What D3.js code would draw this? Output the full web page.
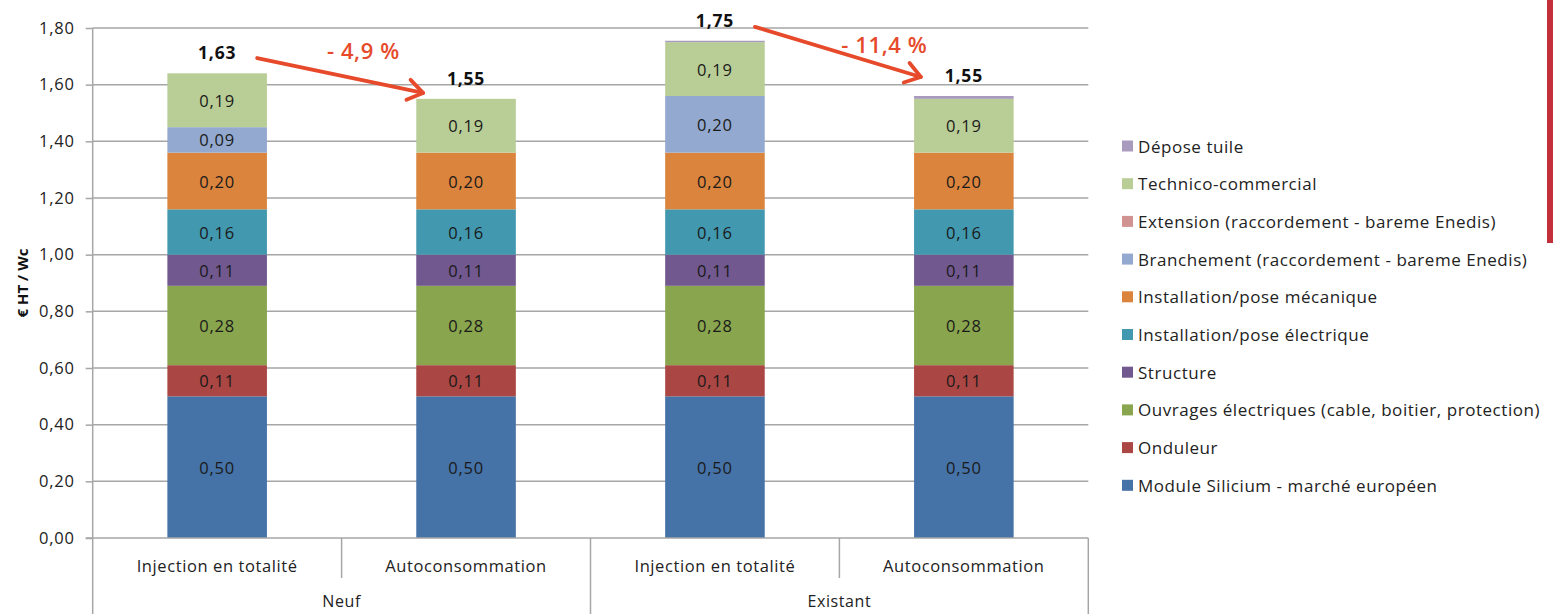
<!DOCTYPE html>
<html>
<head>
<meta charset="utf-8">
<script src="https://cdn.jsdelivr.net/npm/d3@7"></script>
<style>
  body { margin: 0; background: #fff; }
  svg { display: block; font-family: "Open Sans", sans-serif; }
</style>
</head>
<body>
<svg id="chart" width="1553" height="614"></svg>
<script>
// ---- data ----
const groups = ["Neuf", "Existant"];
const scenarios = ["Injection en totalité", "Autoconsommation", "Injection en totalité", "Autoconsommation"];
const scenarioGroup = [0, 0, 1, 1];

const seriesNames = [
  "Module Silicium - marché européen",
  "Onduleur",
  "Ouvrages électriques (cable, boitier, protection)",
  "Structure",
  "Installation/pose électrique",
  "Installation/pose mécanique",
  "Branchement (raccordement - bareme Enedis)",
  "Extension (raccordement - bareme Enedis)",
  "Technico-commercial",
  "Dépose tuile"
];
const seriesColors = ["#4572A7", "#AA4643", "#89A54E", "#71588F", "#4198AF",
                      "#DB843D", "#93A9CF", "#D19392", "#B9CD96", "#A99BBD"];

const moduleSilicium = [0.50, 0.50, 0.50, 0.50];
const onduleur       = [0.11, 0.11, 0.11, 0.11];
const ouvrages       = [0.28, 0.28, 0.28, 0.28];
const structure      = [0.11, 0.11, 0.11, 0.11];
const poseElectrique = [0.16, 0.16, 0.16, 0.16];
const poseMecanique  = [0.20, 0.20, 0.20, 0.20];
const branchement    = [0.09, 0.00, 0.20, 0.00];
const extension      = [0.00, 0.00, 0.00, 0.00];
const technico       = [0.19, 0.19, 0.19, 0.19];
const deposeTuile    = [0.00, 0.00, 0.005, 0.01];
const seriesValues = [moduleSilicium, onduleur, ouvrages, structure, poseElectrique,
                      poseMecanique, branchement, extension, technico, deposeTuile];

const totals = [1.63, 1.55, 1.75, 1.55];

// evolution annotations between two bars: start/end heights and label
const evoFrom = [0, 2];
const evoTo = [1, 3];
const evoStartValue = [1.694, 1.804];
const evoEndValue = [1.571, 1.627];
const evoLabels = ["- 4,9 %", "- 11,4 %"];
const evoLabelPos = [0.64, 0.78];
const evoLabelValue = [1.722, 1.744];

const yTicks = [0, 0.2, 0.4, 0.6, 0.8, 1.0, 1.2, 1.4, 1.6, 1.8];
const yTitle = "€ HT / Wc";

// ---- layout ----
const svg = d3.select("#chart");
const plotLeft = 92.7, plotRight = 1088.3, plotTop = 28, plotBottom = 538;
const axisGrey = "#A6A6A6";
const textColor = "#222";
const fmt = v => d3.format(".2f")(v).replace(".", ",");

const x = d3.scaleBand().domain(d3.range(scenarios.length))
  .range([plotLeft, plotRight]).paddingInner(0.6).paddingOuter(0.3);
const y = d3.scaleLinear().domain([0, 1.8]).range([plotBottom, plotTop]);
const cx = i => x(i) + x.bandwidth() / 2;
const step = x.step();

// gridlines
svg.append("g").selectAll("line").data(yTicks.filter(d => d > 0)).join("line")
  .attr("x1", plotLeft).attr("x2", plotRight)
  .attr("y1", d => y(d)).attr("y2", d => y(d))
  .attr("stroke", axisGrey).attr("stroke-width", 1.5);

// y axis
const yAxis = svg.append("g").attr("transform", `translate(${plotLeft},0)`)
  .call(d3.axisLeft(y).tickValues(yTicks).tickSize(7).tickPadding(11).tickFormat(fmt));
yAxis.select(".domain").remove();
yAxis.selectAll(".tick line").attr("stroke", axisGrey).attr("stroke-width", 1.5);
yAxis.selectAll(".tick text").attr("font-size", 16.5).attr("letter-spacing", 0.8)
  .attr("fill", textColor).attr("font-family", "Open Sans, sans-serif");
svg.append("line").attr("x1", plotLeft).attr("x2", plotLeft).attr("y1", plotTop).attr("y2", 614)
  .attr("stroke", axisGrey).attr("stroke-width", 1.5);

svg.append("text").attr("transform", `translate(22,${(plotTop + plotBottom) / 2}) rotate(-90)`)
  .attr("text-anchor", "middle").attr("dominant-baseline", "central")
  .attr("font-size", 15).attr("font-weight", "bold").attr("fill", "#111").text(yTitle);

// stacked bars
const rows = scenarios.map((s, i) => {
  const r = { idx: i };
  seriesNames.forEach((n, k) => r[n] = seriesValues[k][i]);
  return r;
});
const stacked = d3.stack().keys(seriesNames)(rows);

const layers = svg.append("g").selectAll("g").data(stacked).join("g")
  .attr("fill", (d, k) => seriesColors[k]);
layers.selectAll("rect").data(d => d).join("rect")
  .attr("x", d => x(d.data.idx))
  .attr("width", x.bandwidth())
  .attr("y", d => y(d[1]))
  .attr("height", d => y(d[0]) - y(d[1]));

// segment value labels
layers.selectAll("text").data(d => d.filter(s => s[1] - s[0] >= 0.05)).join("text")
  .attr("x", d => cx(d.data.idx))
  .attr("y", d => y((d[0] + d[1]) / 2))
  .attr("text-anchor", "middle").attr("dominant-baseline", "central")
  .attr("font-size", 16.5).attr("letter-spacing", 0.8).attr("fill", "#1a1a1a")
  .text(d => fmt(d[1] - d[0]));

// totals above each stack
const stackTop = stacked[stacked.length - 1];
svg.append("g").selectAll("text").data(totals).join("text")
  .attr("x", (d, i) => cx(i))
  .attr("y", (d, i) => y(stackTop[i][1]) - 21)
  .attr("text-anchor", "middle").attr("dominant-baseline", "central")
  .attr("font-size", 17.5).attr("letter-spacing", 0.8).attr("font-weight", "bold").attr("fill", "#111")
  .text(fmt);

// baseline
svg.append("line").attr("x1", plotLeft - 7).attr("x2", plotRight).attr("y1", plotBottom).attr("y2", plotBottom)
  .attr("stroke", axisGrey).attr("stroke-width", 1.5);

// category axis: scenario labels, separators and group labels
svg.append("g").selectAll("text").data(scenarios).join("text")
  .attr("x", (d, i) => cx(i)).attr("y", 565)
  .attr("text-anchor", "middle").attr("dominant-baseline", "central")
  .attr("font-size", 16.5).attr("letter-spacing", 0.6).attr("fill", textColor).text(d => d);

const seps = d3.range(1, scenarios.length).map(i => ({
  pos: plotLeft + step * i,
  full: scenarioGroup[i] !== scenarioGroup[i - 1]
}));
seps.push({ pos: plotRight, full: true });
svg.append("g").selectAll("line").data(seps).join("line")
  .attr("x1", d => d.pos).attr("x2", d => d.pos)
  .attr("y1", plotBottom).attr("y2", d => d.full ? 614 : 578)
  .attr("stroke", axisGrey).attr("stroke-width", 1.5);

svg.append("g").selectAll("text").data(groups).join("text")
  .attr("x", (d, g) => {
    const idx = scenarioGroup.map((v, i) => v === g ? i : -1).filter(i => i >= 0);
    return plotLeft + step * (idx[0] + idx[idx.length - 1] + 1) / 2;
  })
  .attr("y", 601)
  .attr("text-anchor", "middle").attr("dominant-baseline", "central")
  .attr("font-size", 16).attr("letter-spacing", 0.6).attr("fill", textColor).text(d => d);

// evolution arrows
const red = "#E64A2B";
evoFrom.forEach((f, k) => {
  const x1 = cx(f) + 40, y1 = y(evoStartValue[k]);
  const x2 = cx(evoTo[k]) - 43, y2 = y(evoEndValue[k]);
  const a = Math.atan2(y2 - y1, x2 - x1);
  const L = 18, sp = 0.6;
  const g = svg.append("g").attr("stroke", red).attr("stroke-width", 3.8)
    .attr("fill", "none").attr("stroke-linecap", "round").attr("stroke-linejoin", "round");
  g.append("line").attr("x1", x1).attr("y1", y1).attr("x2", x2).attr("y2", y2);
  g.append("path").attr("d",
    `M${x2 - L * Math.cos(a - sp)},${y2 - L * Math.sin(a - sp)}L${x2},${y2}L${x2 - L * Math.cos(a + sp)},${y2 - L * Math.sin(a + sp)}`);
  svg.append("text")
    .attr("x", x1 + (x2 - x1) * evoLabelPos[k]).attr("y", y(evoLabelValue[k]))
    .attr("text-anchor", "middle").attr("dominant-baseline", "central")
    .attr("font-size", 22).attr("letter-spacing", 0.6).attr("font-weight", 600)
    .attr("fill", red).text(evoLabels[k]);
});

// legend (top entry = last series)
const legend = svg.append("g").selectAll("g").data(seriesNames.map((n, k) => k).reverse()).join("g")
  .attr("transform", (k, r) => `translate(1122,${146 + r * 37.7})`);
legend.append("rect").attr("x", 0).attr("y", -5.5).attr("width", 11).attr("height", 11)
  .attr("fill", k => seriesColors[k]);
legend.append("text").attr("x", 16).attr("y", 0).attr("dominant-baseline", "central")
  .attr("font-size", 17).attr("letter-spacing", 0.55).attr("fill", textColor).text(k => seriesNames[k]);

// page accent strip
svg.append("rect").attr("x", 1547).attr("y", 0).attr("width", 6).attr("height", 243).attr("fill", "#C4303A");
</script>
</body>
</html>
